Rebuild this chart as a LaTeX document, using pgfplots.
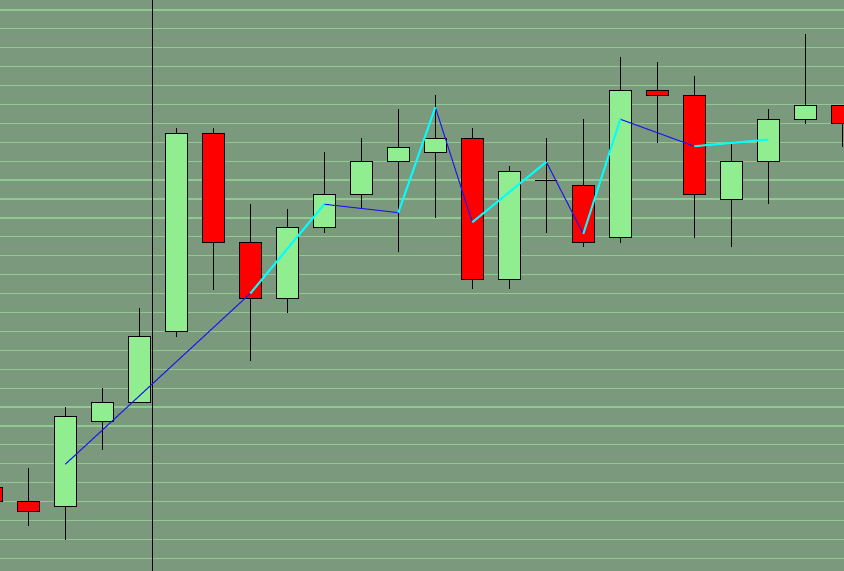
\documentclass[border=0pt]{standalone}
\usepackage{pgfplots}
\pgfplotsset{compat=1.18}
\usepgfplotslibrary{statistics}
\definecolor{bgpanel}{RGB}{123,154,125}
\definecolor{gridgreen}{RGB}{146,201,146}
\definecolor{upbody}{RGB}{144,238,144}
\definecolor{downbody}{RGB}{255,0,0}
\definecolor{zigup}{RGB}{0,255,255}
\definecolor{zigdown}{RGB}{30,30,230}

% pos, low, body bottom, body top, high, fill
\newcommand{\candle}[6]{%
  \addplot[draw=black, line width=1.25bp, fill=#6,
    boxplot prepared={draw position=#1, lower whisker=#2, lower quartile=#3,
      median=#3, upper quartile=#4, upper whisker=#5,
      box extend=0.6, whisker extend=0}] coordinates {};
}

\begin{document}
\begin{tikzpicture}
\begin{axis}[
    scale only axis,
    width=844bp, height=571bp,
    xmin=0.235, xmax=23.046,
    ymin=-0.672, ymax=29.524,
    boxplot/draw direction=y,
    axis line style={draw=none},
    axis background/.style={fill=bgpanel},
    xtick=\empty,
    ytick={0,1,...,29},
    yticklabels={},
    major tick length=0pt,
    ymajorgrids=true,
    grid style={gridgreen, line width=1.2bp},
]
\candle{0}{3.015}{3.015}{3.755}{3.755}{downbody}
\candle{1}{1.724}{2.486}{3.015}{4.760}{downbody}
\candle{2}{0.984}{2.750}{7.510}{8.002}{upbody}
\candle{3}{5.744}{7.225}{8.251}{9.007}{upbody}
\candle{4}{8.251}{8.251}{11.742}{13.239}{upbody}
\candle{5}{11.721}{12.006}{22.479}{22.759}{upbody}
\candle{6}{14.206}{16.713}{22.479}{22.759}{downbody}
\candle{7}{10.451}{13.752}{16.713}{18.739}{downbody}
\candle{8}{12.990}{13.752}{17.507}{18.475}{upbody}
\candle{9}{17.221}{17.507}{19.252}{21.489}{upbody}
\candle{10}{18.459}{19.252}{20.997}{22.214}{upbody}
\candle{11}{16.216}{20.997}{21.738}{23.764}{upbody}
\candle{12}{17.983}{21.474}{22.214}{24.504}{upbody}
\candle{13}{14.228}{14.757}{22.214}{22.743}{downbody}
\candle{14}{14.228}{14.757}{20.469}{20.749}{upbody}
\candle{15}{17.221}{19.993}{19.993}{22.214}{upbody}
\candle{16}{16.481}{16.713}{19.728}{23.235}{downbody}
\candle{17}{16.692}{16.978}{24.753}{26.514}{upbody}
\candle{18}{21.981}{24.488}{24.753}{26.249}{downbody}
\candle{19}{16.957}{19.252}{24.488}{25.509}{downbody}
\candle{20}{16.481}{18.988}{20.997}{21.981}{upbody}
\candle{21}{18.723}{20.997}{23.219}{23.764}{upbody}
\candle{22}{22.986}{23.219}{23.959}{27.731}{upbody}
\candle{23}{21.738}{23.007}{23.959}{23.959}{downbody}

% vertical marker line
\addplot[black, line width=0.9bp] coordinates {(4.343,-1) (4.343,30)};

% zigzag: falling legs (and the first leg) blue, rising legs cyan
\addplot[zigdown, line width=1.1bp] coordinates {(2,4.972) (7,14.005)};
\addplot[zigdown, line width=1.1bp] coordinates {(9,18.723) (11,18.279)};
\addplot[zigdown, line width=1.1bp] coordinates {(12,23.854) (13,17.771)};
\addplot[zigdown, line width=1.1bp] coordinates {(15,20.961) (16,17.153)};
\addplot[zigdown, line width=1.1bp] coordinates {(17,23.219) (19,21.791)};
\addplot[zigup, line width=2bp] coordinates {(7,14.005) (9,18.723)};
\addplot[zigup, line width=2bp] coordinates {(11,18.279) (12,23.854)};
\addplot[zigup, line width=2bp] coordinates {(13,17.771) (15,20.961)};
\addplot[zigup, line width=2bp] coordinates {(16,17.153) (17,23.219)};
\addplot[zigup, line width=2bp] coordinates {(19,21.791) (21,22.140)};
\end{axis}
\pgfresetboundingbox
\path[use as bounding box] (current axis.south west) rectangle (current axis.north east);
\end{tikzpicture}
\end{document}
